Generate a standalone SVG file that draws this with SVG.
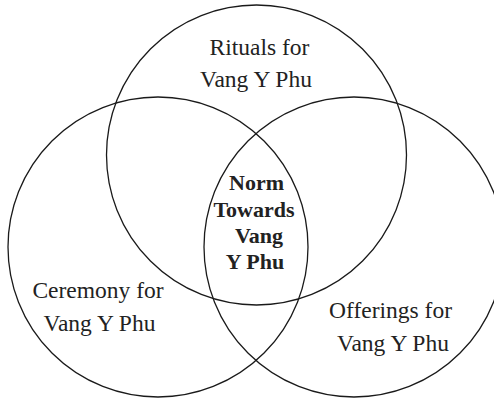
<svg xmlns="http://www.w3.org/2000/svg" width="494" height="398" viewBox="0 0 494 398">
  <style>
    .ring { fill: none; stroke: #1a1a1a; stroke-width: 1.3; }
    .lbl { font-family: "Liberation Serif", "Times New Roman", serif; font-size: 23.5px; fill: #222; text-anchor: middle; }
    .core { font-family: "Liberation Serif", "Times New Roman", serif; font-size: 22px; font-weight: bold; fill: #222; text-anchor: middle; }
  </style>
  <rect width="494" height="398" fill="#fff"/>
  <g id="rituals">
    <circle class="ring" cx="256.5" cy="155" r="150"/>
    <text class="lbl"><tspan x="259.5" y="55">Rituals for</tspan><tspan x="256" y="87">Vang Y Phu</tspan></text>
  </g>
  <g id="ceremony">
    <circle class="ring" cx="158" cy="247" r="150"/>
    <text class="lbl"><tspan x="98" y="298">Ceremony for</tspan><tspan x="99.5" y="331">Vang Y Phu</tspan></text>
  </g>
  <g id="offerings">
    <circle class="ring" cx="354" cy="247" r="150"/>
    <text class="lbl"><tspan x="390.5" y="318">Offerings for</tspan><tspan x="393" y="351">Vang Y Phu</tspan></text>
  </g>
  <g id="norm">
    <text class="core"><tspan x="256.5" y="190">Norm</tspan><tspan x="254" y="217">Towards</tspan><tspan x="259" y="243">Vang</tspan><tspan x="255" y="269">Y Phu</tspan></text>
  </g>
  <g id="connectors"></g>
</svg>
